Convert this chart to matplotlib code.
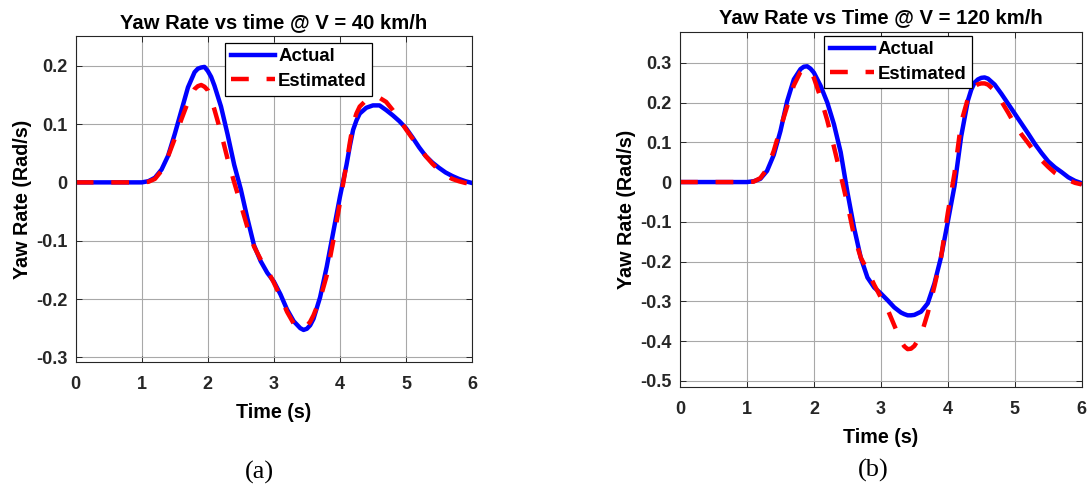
import numpy as np
import matplotlib
matplotlib.use("Agg")
import matplotlib.pyplot as plt

plt.rcParams['font.family'] = ['Liberation Sans', 'DejaVu Sans']

# sample times (every 0.1 s) and a few extra read-off points near the peaks
t = np.linspace(0, 6, 61)

actual_40 = [0, 0, 0, 0, 0, 0, 0, 0, 0, 0, 0,
             0.002, 0.008, 0.022, 0.046, 0.083, 0.123, 0.163, 0.189, 0.197, 0.191,
             0.166, 0.130, 0.082, 0.030, -0.012, -0.062, -0.108, -0.135, -0.155, -0.170,
             -0.192, -0.218, -0.238, -0.250, -0.251, -0.234, -0.197, -0.145, -0.085, -0.025,
             0.030, 0.090, 0.118, 0.128, 0.132, 0.132, 0.124, 0.115, 0.105, 0.093,
             0.077, 0.060, 0.045, 0.034, 0.025, 0.017, 0.011, 0.006, 0.002, -0.001]
est_40 = [0, 0, 0, 0, 0, 0, 0, 0, 0, 0, 0,
          0.001, 0.006, 0.020, 0.045, 0.075, 0.108, 0.138, 0.160, 0.167, 0.158,
          0.125, 0.085, 0.040, 0.000, -0.038, -0.077, -0.110, -0.132, -0.150, -0.172,
          -0.196, -0.222, -0.242, -0.250, -0.246, -0.228, -0.200, -0.160, -0.100, -0.035,
          0.032, 0.100, 0.130, 0.141, 0.146, 0.145, 0.138, 0.124, 0.108, 0.091,
          0.075, 0.060, 0.045, 0.032, 0.021, 0.012, 0.006, 0.002, -0.001, -0.002]
t_extra_40 = [1.85, 1.95, 2.05, 3.45, 3.55, 4.15, 4.25]
actual_extra_40 = [0.195, 0.198, 0.181, -0.253, -0.245, 0.062, 0.106]
est_extra_40 = [0.165, 0.164, 0.143, -0.250, -0.239, 0.068, 0.118]

actual_120 = [0, 0, 0, 0, 0, 0, 0, 0, 0, 0, 0,
              0.002, 0.008, 0.028, 0.068, 0.128, 0.203, 0.258, 0.284, 0.291, 0.275,
              0.242, 0.200, 0.145, 0.075, -0.025, -0.115, -0.190, -0.240, -0.265, -0.280,
              -0.297, -0.315, -0.328, -0.335, -0.334, -0.326, -0.305, -0.255, -0.188, -0.100,
              -0.010, 0.115, 0.205, 0.250, 0.262, 0.260, 0.245, 0.222, 0.197, 0.172,
              0.147, 0.122, 0.096, 0.073, 0.052, 0.037, 0.025, 0.012, 0.003, -0.003]
est_120 = [0, 0, 0, 0, 0, 0, 0, 0, 0, 0, 0,
           0.001, 0.010, 0.033, 0.078, 0.135, 0.190, 0.243, 0.277, 0.286, 0.262,
           0.212, 0.155, 0.088, 0.018, -0.055, -0.135, -0.190, -0.222, -0.258, -0.290,
           -0.320, -0.360, -0.400, -0.420, -0.412, -0.385, -0.330, -0.262, -0.188, -0.078,
           0.022, 0.150, 0.210, 0.240, 0.248, 0.245, 0.230, 0.203, 0.175, 0.145,
           0.120, 0.098, 0.075, 0.055, 0.038, 0.023, 0.012, 0.005, -0.002, -0.006]
t_extra_120 = [1.85, 1.95, 3.35, 3.45, 4.35, 4.45, 4.55]
actual_extra_120 = [0.290, 0.285, -0.332, -0.335, 0.232, 0.258, 0.263]
est_extra_120 = [0.284, 0.277, -0.413, -0.419, 0.228, 0.246, 0.248]

titles = ["Yaw Rate vs time @ V = 40 km/h", "Yaw Rate vs Time @ V = 120 km/h"]
yticks_40 = [-0.3, -0.2, -0.1, 0, 0.1, 0.2]
yticks_120 = [-0.5, -0.4, -0.3, -0.2, -0.1, 0, 0.1, 0.2, 0.3]
xticks = [0, 1, 2, 3, 4, 5, 6]
captions = ["(a)", "(b)"]


def merged(base_y, extra_t, extra_y):
    tt = np.concatenate([t, extra_t])
    yy = np.concatenate([base_y, extra_y])
    order = np.argsort(tt, kind='stable')
    return tt[order], yy[order]


W, H = 1089, 487
fig = plt.figure(figsize=(W / 100, H / 100), dpi=100)


def fr(l, t_, r, b):
    return [l / W, 1 - b / H, (r - l) / W, (b - t_) / H]


ax1 = fig.add_axes(fr(75.7, 36, 472, 362))
ax2 = fig.add_axes(fr(680, 31.7, 1081.7, 387.3))

FS_TICK = 13
FS_LAB = 14.2
FS_TITLE = 14.6
FS_LEG = 13.4
txtc = '#262626'


def style(ax, act, est, textra, aextra, eextra, title, yticks, ylim, leg_anchor, tpad):
    ta, ya = merged(act, textra, aextra)
    te, ye = merged(est, textra, eextra)
    ax.plot(ta, ya, color='#0000ff', lw=3.2, label='Actual', solid_joinstyle='round')
    ax.plot(te, ye, color='#ff0000', lw=3.2, label='Estimated', dashes=(4.0, 4.0))
    ax.set_xlim(0, 6)
    ax.set_ylim(*ylim)
    ax.set_xticks(xticks)
    ax.set_xticklabels([str(v) for v in xticks])
    ax.set_yticks(yticks)
    ax.set_yticklabels(['0' if v == 0 else ('%g' % v) for v in yticks])
    ax.grid(True, color='#a8a8a8', lw=0.8)
    ax.set_axisbelow(True)
    ax.tick_params(direction='in', length=4, width=0.7, top=True, right=True,
                   labelsize=FS_TICK, colors=txtc)
    ax.tick_params(axis='x', pad=10)
    ax.tick_params(axis='y', pad=6)
    for lab in ax.get_xticklabels() + ax.get_yticklabels():
        lab.set_fontweight('bold')
    for s in ax.spines.values():
        s.set_color('#262626')
        s.set_linewidth(0.8)
    ax.set_title(title, fontsize=FS_TITLE, fontweight='bold', color='black', pad=tpad)
    ax.set_xlabel('Time (s)', fontsize=FS_LAB, fontweight='bold', color='black', labelpad=7)
    ax.set_ylabel('Yaw Rate (Rad/s)', fontsize=FS_LAB, fontweight='bold', color='black',
                  labelpad=3)
    leg = ax.legend(loc='upper left', bbox_to_anchor=leg_anchor,
                    prop={'weight': 'bold', 'size': FS_LEG},
                    frameon=True, fancybox=False, framealpha=1, edgecolor='black',
                    borderaxespad=0, borderpad=0.3, handlelength=2.4,
                    handletextpad=0.15, labelspacing=0.4)
    leg.get_frame().set_linewidth(0.9)


style(ax1, actual_40, est_40, t_extra_40, actual_extra_40, est_extra_40,
      titles[0], yticks_40, (-0.308, 0.251), (0.377, 0.979), 5.5)
style(ax2, actual_120, est_120, t_extra_120, actual_extra_120, est_extra_120,
      titles[1], yticks_120, (-0.516, 0.378), (0.359, 0.989), 6)

fig.text(259 / W, 1 - 472 / H, captions[0], ha='center', va='center',
         fontsize=19, family='Liberation Serif')
fig.text(873 / W, 1 - 470 / H, captions[1], ha='center', va='center',
         fontsize=19, family='Liberation Serif')

fig.savefig('out.png', dpi=100)
